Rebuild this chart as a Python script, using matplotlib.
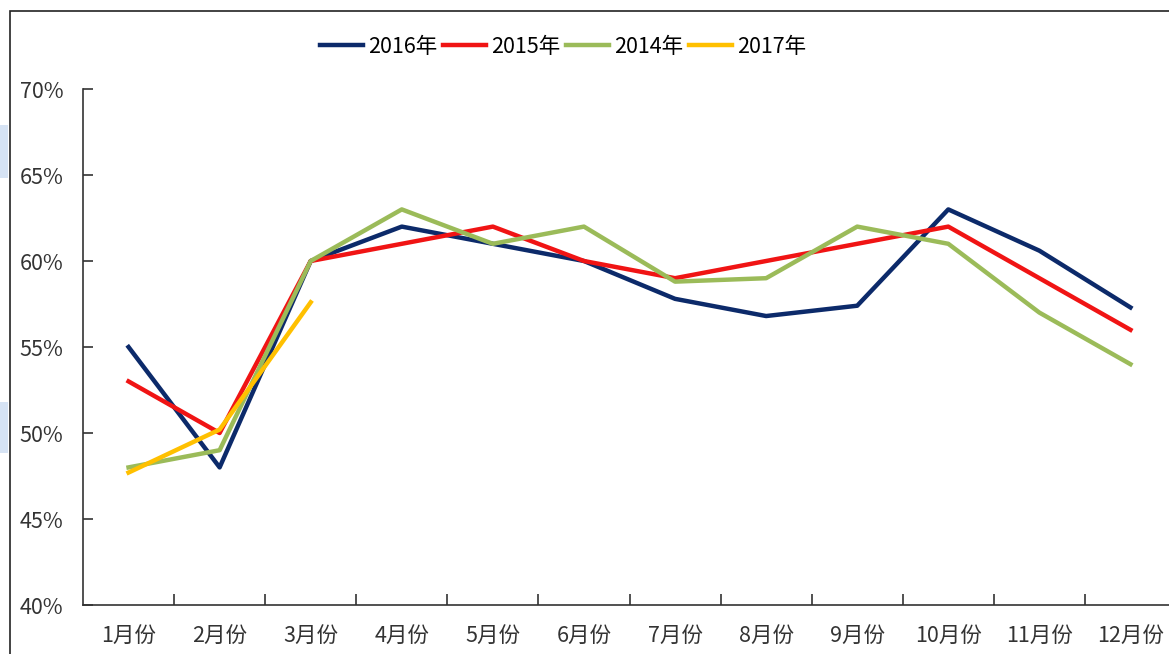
import numpy as np
import matplotlib.pyplot as plt
from matplotlib.patches import Rectangle

plt.rcParams['font.family'] = ['Noto Sans CJK SC', 'DejaVu Sans']

months = ['1月份', '2月份', '3月份', '4月份', '5月份', '6月份',
          '7月份', '8月份', '9月份', '10月份', '11月份', '12月份']
y2016 = [55.0, 48.0, 60.0, 62.0, 61.0, 60.0, 57.8, 56.8, 57.4, 63.0, 60.6, 57.3]
y2015 = [53.0, 50.0, 60.0, 61.0, 62.0, 60.0, 59.0, 60.0, 61.0, 62.0, 59.0, 56.0]
y2014 = [48.0, 49.0, 60.0, 63.0, 61.0, 62.0, 58.8, 59.0, 62.0, 61.0, 57.0, 54.0]
y2017 = [47.7, 50.2, 57.6]
yticks = [40, 45, 50, 55, 60, 65, 70]

fig = plt.figure(figsize=(11.69, 6.54), dpi=100)
W, H = 1169, 654

# outer frame and the pale blue bits on the left edge
fig.patches.append(Rectangle((10 / W, -0.1), 1.2, 1 - 11 / H + 0.1, transform=fig.transFigure,
                             fill=False, edgecolor='#222222', linewidth=1.2))
for y0, y1 in [(125, 178), (402, 453)]:
    fig.patches.append(Rectangle((0, 1 - y1 / H), 8 / W, (y1 - y0) / H, transform=fig.transFigure,
                                 facecolor='#d6e3f4', edgecolor='none'))

ax = fig.add_axes([83 / W, 1 - 605 / H, (1176 - 83) / W, (605 - 89) / H])
x = np.arange(len(months))
ax.plot(x, y2016, color='#0c2a6a', lw=3.2, label='2016年')
ax.plot(x, y2015, color='#f01414', lw=3.2, label='2015年')
ax.plot(x, y2014, color='#9bbb59', lw=3.2, label='2014年')
ax.plot(x[:len(y2017)], y2017, color='#ffc000', lw=3.2, label='2017年')

ax.set_xlim(-0.5, len(months) - 0.5)
ax.set_ylim(40, 70)
ax.set_yticks(yticks)
ax.set_yticklabels([f'{v}%' for v in yticks], fontsize=15.5, color='#333333')
ax.set_xticks(x)
ax.set_xticklabels(months, fontsize=15.5, color='#333333')
ax.set_xticks(np.arange(0.5, len(months) - 0.5, 1), minor=True)
ax.tick_params(axis='x', which='major', length=0, pad=14)
ax.tick_params(axis='x', which='minor', direction='in', length=8, width=1.2, color='#333333')
ax.tick_params(axis='y', direction='in', length=7, width=1.2, color='#333333', pad=14)
for s in ['top', 'right']:
    ax.spines[s].set_visible(False)
for s in ['left', 'bottom']:
    ax.spines[s].set_color('#333333')
    ax.spines[s].set_linewidth(1.2)

fig.legend(loc='center', bbox_to_anchor=(563 / W, 1 - 47 / H), ncol=4, frameon=False,
           fontsize=15.5, handlelength=2.0, handletextpad=0.25, columnspacing=0.25)

fig.savefig('out.png', dpi=100)
